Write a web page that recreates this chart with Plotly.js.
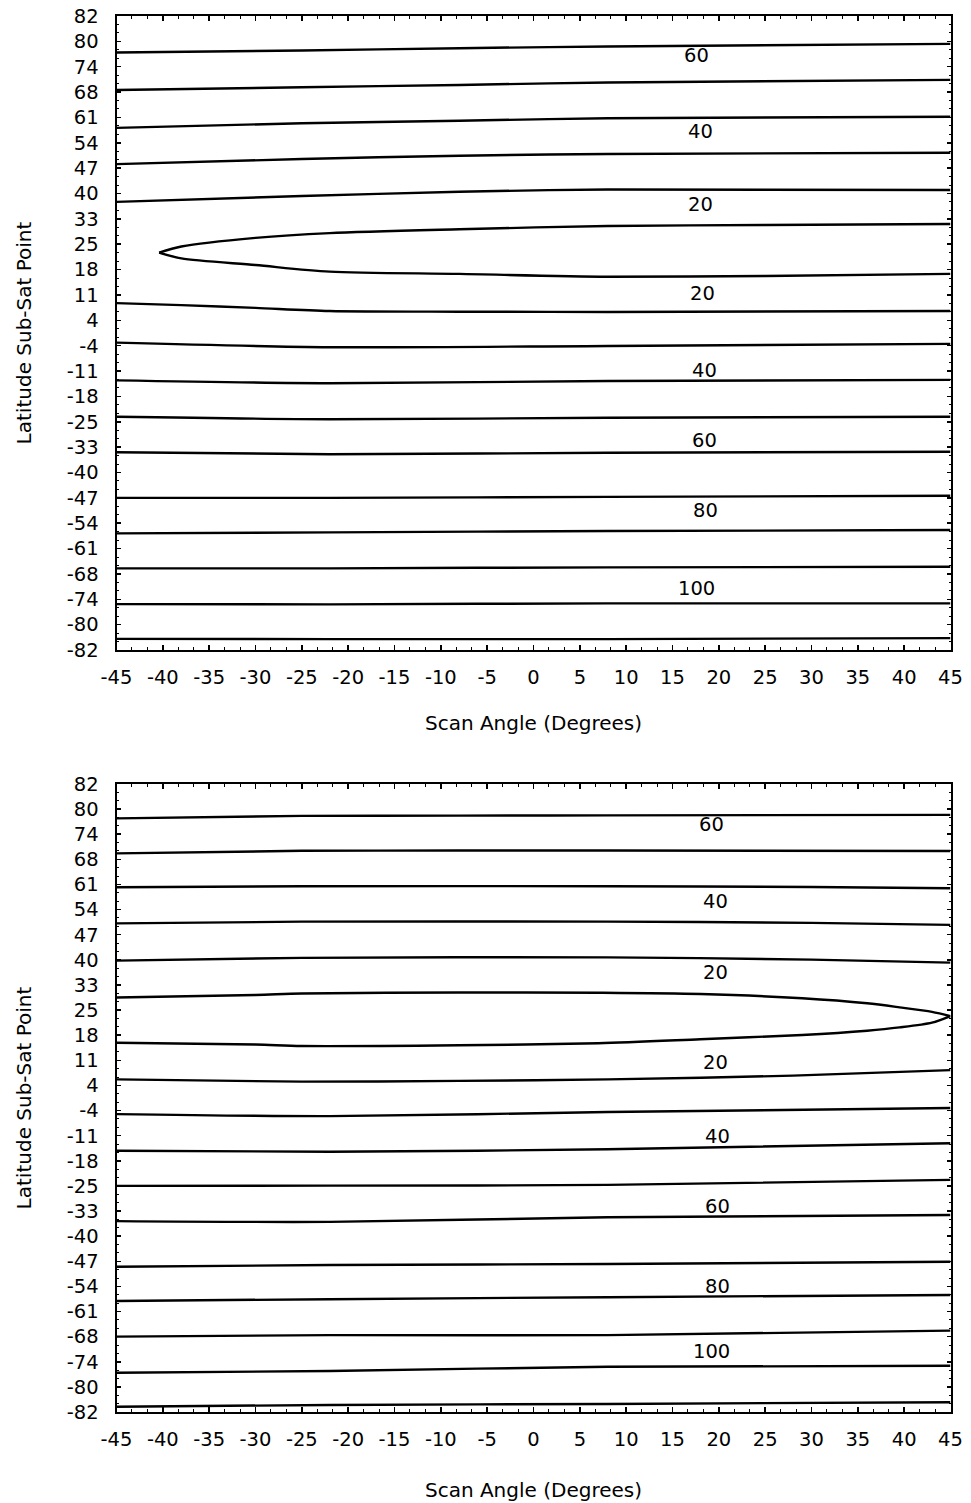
<!DOCTYPE html>
<html>
<head>
<meta charset="utf-8">
<script src="https://cdn.plot.ly/plotly-3.0.1.min.js"></script>
<style>html,body{margin:0;padding:0;background:#fff;}#chart{width:971px;height:1503px;}</style>
</head>
<body>
<div id="chart"></div>
<script>
// ---------- axis tick labels ----------
const scanTickVals = [-45,-40,-35,-30,-25,-20,-15,-10,-5,0,5,10,15,20,25,30,35,40,45];
const scanTickText = ['-45','-40','-35','-30','-25','-20','-15','-10','-5','0','5','10','15','20','25','30','35','40','45'];
// latitude grid rows (row 0 = top edge, row 25 = bottom edge)
const latRows = [0,1,2,3,4,5,6,7,8,9,10,11,12,13,14,15,16,17,18,19,20,21,22,23,24,25];
const latLabels = ['82','80','74','68','61','54','47','40','33','25','18','11','4','-4','-11','-18','-25','-33','-40','-47','-54','-61','-68','-74','-80','-82'];

// ---------- shared scan-angle samples ----------
const xsA = [-45, -25, -8, 8, 45];
const xsB = [-45, -22, 8, 45];
const xsC = [-45, -25, 8, 30, 45];

// ---------- TOP PANEL contour lines (y = latitude grid row) ----------
const top60 = [1.44, 1.36, 1.27, 1.20, 1.10];
const top50 = [2.92, 2.81, 2.72, 2.62, 2.52];
const top40 = [4.41, 4.23, 4.13, 4.03, 3.97];
const top30 = [5.84, 5.64, 5.51, 5.44, 5.39];
const top20 = [7.33, 7.10, 6.93, 6.84, 6.86];
const top10ux = [45, 25, 8, -8, -22, -30, -38, -40.4];
const top10uy = [8.20, 8.24, 8.28, 8.41, 8.56, 8.75, 9.09, 9.33];
const top10lx = [-40.4, -38, -30, -22, -8, 8, 25, 45];
const top10ly = [9.33, 9.56, 9.82, 10.08, 10.17, 10.28, 10.25, 10.17];
const top20sx = [-45, -38, -30, -22, -8, 8, 45];
const top20s = [11.32, 11.40, 11.51, 11.63, 11.66, 11.67, 11.63];
const top30s = [12.88, 13.06, 13.01, 12.93];
const top40s = [14.37, 14.48, 14.39, 14.35];
const top50s = [15.80, 15.90, 15.84, 15.80];
const top60s = [17.20, 17.28, 17.22, 17.18];
const top70s = [19.00, 19.00, 18.96, 18.92];
const top80s = [20.40, 20.36, 20.31, 20.27];
const top90s = [21.78, 21.78, 21.74, 21.72];
const top100s = [23.19, 23.20, 23.16, 23.16];
const top110s = [24.56, 24.57, 24.57, 24.53];

const topLabelText = ['60','40','20','20','40','60','80','100'];
const topLabelX = [17.6, 18.0, 18.0, 18.2, 18.4, 18.4, 18.6, 17.6];
const topLabelY = [1.54, 4.56, 7.45, 10.93, 13.96, 16.72, 19.51, 22.57];

// ---------- BOTTOM PANEL contour lines ----------
const bot60 = [1.37, 1.27, 1.26, 1.25, 1.23];
const bot50 = [2.76, 2.66, 2.65, 2.65, 2.67];
const bot40 = [4.11, 4.07, 4.07, 4.10, 4.15];
const bot30 = [5.55, 5.48, 5.48, 5.53, 5.61];
const bot20 = [7.03, 6.92, 6.90, 6.99, 7.11];
const bot10ux = [-45, -30, -25, -8, 7, 18, 29, 36, 39.5, 43, 45];
const bot10uy = [8.50, 8.40, 8.34, 8.30, 8.31, 8.36, 8.53, 8.73, 8.89, 9.07, 9.24];
const bot10lx = [45, 43, 39.5, 36, 29, 18, 7, -8, -25, -30, -45];
const bot10ly = [9.24, 9.50, 9.69, 9.82, 9.99, 10.16, 10.32, 10.40, 10.43, 10.37, 10.30];
const bot20sx = [-45, -25, -8, 8, 28, 45];
const bot20s = [11.76, 11.85, 11.82, 11.76, 11.61, 11.39];
const bot30s = [13.14, 13.22, 13.06, 12.90];
const bot40s = [14.60, 14.64, 14.54, 14.30];
const bot50s = [16.00, 15.99, 15.96, 15.76];
const bot60s = [17.40, 17.43, 17.25, 17.16];
const bot70s = [19.22, 19.15, 19.11, 19.02];
const bot80s = [20.58, 20.51, 20.43, 20.34];
const bot90s = [22.00, 21.94, 21.94, 21.76];
const bot100s = [23.44, 23.37, 23.20, 23.16];
const bot110s = [24.79, 24.72, 24.68, 24.61];

const botLabelText = ['60','40','20','20','40','60','80','100'];
const botLabelX = [19.2, 19.6, 19.6, 19.6, 19.9, 19.9, 19.9, 19.2];
const botLabelY = [1.63, 4.69, 7.51, 11.10, 14.04, 16.83, 20.01, 22.60];

// ---------- build figure ----------
const FONT = 'DejaVu Sans, Liberation Sans, Arial, sans-serif';
const traces = [];
function addLine(x, y, xa, ya) {
  traces.push({type: 'scatter', mode: 'lines', x: x, y: y, xaxis: xa, yaxis: ya,
    line: {color: '#000', width: 2.4, shape: 'spline', smoothing: 0.8}, hoverinfo: 'skip', showlegend: false});
}
[top60, top50, top40, top30, top20].forEach(y => addLine(xsA, y, 'x', 'y'));
addLine(top10ux, top10uy, 'x', 'y');
addLine(top10lx, top10ly, 'x', 'y');
addLine(top20sx, top20s, 'x', 'y');
[top30s, top40s, top50s, top60s, top70s, top80s, top90s, top100s, top110s].forEach(y => addLine(xsB, y, 'x', 'y'));

[bot60, bot50].forEach(y => addLine(xsA, y, 'x2', 'y2'));
[bot40, bot30, bot20].forEach(y => addLine(xsC, y, 'x2', 'y2'));
addLine(bot10ux, bot10uy, 'x2', 'y2');
addLine(bot10lx, bot10ly, 'x2', 'y2');
addLine(bot20sx, bot20s, 'x2', 'y2');
[bot30s, bot40s, bot50s, bot60s, bot70s, bot80s, bot90s, bot100s, bot110s].forEach(y => addLine(xsB, y, 'x2', 'y2'));

const annotations = [];
topLabelText.forEach((t, i) => annotations.push({x: topLabelX[i], y: topLabelY[i], xref: 'x', yref: 'y', text: t,
  showarrow: false, font: {family: FONT, size: 19.5, color: '#000'}}));
botLabelText.forEach((t, i) => annotations.push({x: botLabelX[i], y: botLabelY[i], xref: 'x2', yref: 'y2', text: t,
  showarrow: false, font: {family: FONT, size: 19.5, color: '#000'}}));

function xAxis(anchor, titleStandoff) {
  return {
    anchor: anchor, domain: [116.5/971, 950.5/971], range: [-45, 45],
    tickmode: 'array', tickvals: scanTickVals, ticktext: scanTickText,
    ticks: 'inside', ticklen: 5, tickwidth: 1.5, tickcolor: '#000',
    minor: {dtick: 5/3, tick0: -45, ticks: 'inside', ticklen: 3, tickwidth: 1, tickcolor: '#000', showgrid: false},
    showline: true, linecolor: '#000', linewidth: 2, mirror: 'ticks',
    showgrid: false, zeroline: false, ticklabelstandoff: 9,
    tickfont: {family: FONT, size: 19.5, color: '#000'},
    title: {text: 'Scan Angle (Degrees)', font: {family: FONT, size: 20, color: '#000'}, standoff: titleStandoff}
  };
}
function yAxis(anchor, dom) {
  return {
    anchor: anchor, domain: dom, range: [25, 0],
    tickmode: 'array', tickvals: latRows, ticktext: latLabels,
    ticks: 'inside', ticklen: 4, tickwidth: 1.5, tickcolor: '#000',
    minor: {dtick: 1/3, tick0: 0, ticks: 'inside', ticklen: 2, tickwidth: 1, tickcolor: '#000', showgrid: false},
    showline: true, linecolor: '#000', linewidth: 2, mirror: 'ticks',
    showgrid: false, zeroline: false, ticklabelstandoff: 12,
    tickfont: {family: FONT, size: 19.5, color: '#000'},
    title: {text: 'Latitude Sub-Sat Point', font: {family: FONT, size: 20, color: '#000'}, standoff: 30}
  };
}

const layout = {
  width: 971, height: 1503,
  margin: {l: 0, r: 0, t: 0, b: 0},
  paper_bgcolor: '#fff', plot_bgcolor: '#fff',
  showlegend: false,
  xaxis: xAxis('y', 28),
  yaxis: yAxis('x', [1 - 650/1503, 1 - 16/1503]),
  xaxis2: xAxis('y2', 33),
  yaxis2: yAxis('x2', [1 - 1412/1503, 1 - 784/1503]),
  annotations: annotations
};

Plotly.newPlot('chart', traces, layout, {staticPlot: true, displayModeBar: false});
</script>
</body>
</html>
